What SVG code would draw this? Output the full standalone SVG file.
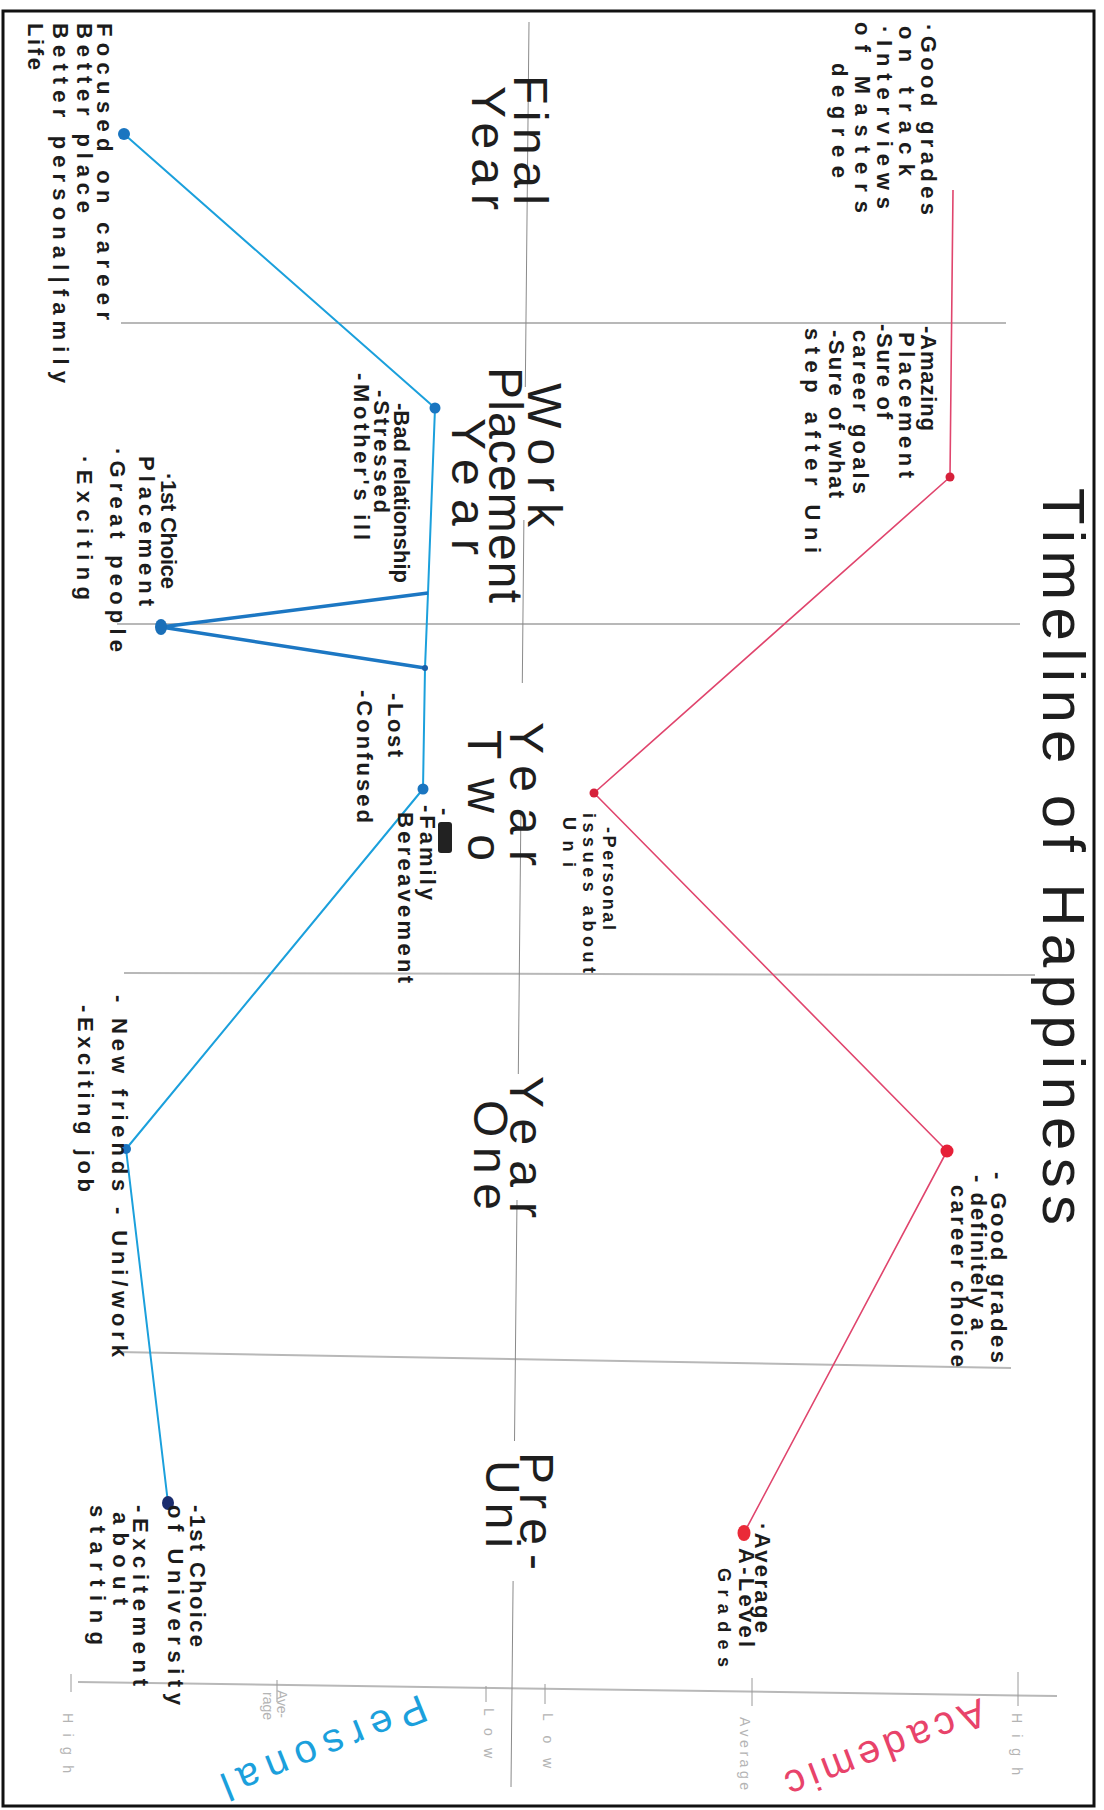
<svg xmlns="http://www.w3.org/2000/svg" width="1104" height="1810" viewBox="0 0 1104 1810">
  <style>
    .title { font-family: "Liberation Sans", Arial, sans-serif; font-size: 60px; fill: #1e1e1e; }
    .big { font-family: "Liberation Sans", Arial, sans-serif; font-size: 48px; fill: #1e1e1e; }
    .note { font-family: "Liberation Sans", Arial, sans-serif; font-weight: bold; font-size: 22px; fill: #1c1c1c; }
    .small { font-family: "Liberation Sans", Arial, sans-serif; font-weight: bold; font-size: 18px; fill: #1c1c1c; }
    .axis { font-family: "Liberation Sans", Arial, sans-serif; font-size: 14px; fill: #b4b4b4; }
    .legend { font-family: "Liberation Sans", Arial, sans-serif; font-size: 40px; }
    .grid { stroke: #b8b8b8; stroke-width: 2; fill: none; }
    .spine { stroke: #8a8a8a; stroke-width: 1; fill: none; }
    .tick { stroke: #9a9a9a; stroke-width: 1; }
    .acad { stroke: #e0456d; stroke-width: 1.6; fill: none; stroke-linejoin: round; }
    .pers { stroke: #1ba0dc; stroke-width: 2; fill: none; stroke-linejoin: round; }
    .pers-v { stroke: #1c77c3; stroke-width: 3.5; fill: none; stroke-linejoin: round; }
    .dot-a { fill: #d6203a; }
    .dot-p { fill: #1a75c0; }
  </style>

  <rect x="0" y="0" width="1104" height="1810" fill="#ffffff"/>
  <rect x="3" y="11" width="1091" height="1795" fill="none" stroke="#111" stroke-width="3"/>

  <!-- period dividers and value axis -->
  <g id="grid">
    <line class="grid" x1="121" y1="323" x2="1006" y2="323"/>
    <line class="grid" x1="117" y1="624" x2="1020" y2="624"/>
    <line class="grid" x1="124" y1="973" x2="1035" y2="975"/>
    <line class="grid" x1="117" y1="1352" x2="1011" y2="1368"/>
    <line class="grid" x1="78" y1="1682" x2="1057" y2="1696"/>
    <path class="spine" d="M529,22 L525.3,387 M523.9,520 L522.3,683 M520.9,813 L518.3,1074 M517,1200 L514.5,1441 M513.1,1581 L511,1787"/>
    <line class="tick" x1="71" y1="1674" x2="71" y2="1692"/>
    <line class="tick" x1="277" y1="1680" x2="277" y2="1702"/>
    <line class="tick" x1="486" y1="1686" x2="486" y2="1702"/>
    <line class="tick" x1="545" y1="1684" x2="545" y2="1704"/>
    <line class="tick" x1="752" y1="1678" x2="752" y2="1706"/>
    <line class="tick" x1="1018" y1="1672" x2="1018" y2="1706"/>
  </g>

  <!-- axis scale labels -->
  <g id="axis-labels" transform="rotate(90)">
    <text class="axis" x="1713" y="-63" textLength="60">High</text>
    <text class="axis" x="1690" y="-277" textLength="28">Ave-</text>
    <text class="axis" x="1692" y="-263" textLength="28">rage</text>
    <text class="axis" x="1708" y="-484" textLength="50">Low</text>
    <text class="axis" x="1713" y="-543" textLength="55">Low</text>
    <text class="axis" x="1717" y="-740" textLength="73">Average</text>
    <text class="axis" x="1713" y="-1012" textLength="62">High</text>
  </g>

  <g id="legend-personal">
    <text class="legend" transform="translate(420,1694) rotate(158)" fill="#1ba0dc" textLength="218">Personal</text>
  </g>
  <g id="legend-academic">
    <text class="legend" transform="translate(980,1698) rotate(159)" fill="#e8436a" textLength="212">Academic</text>
  </g>

  <g id="title" transform="rotate(90)">
    <text class="title" x="488" y="-1043" textLength="737">Timeline of Happiness</text>
  </g>

  <!-- period headings -->
  <g id="period-final-year" transform="rotate(90)">
    <text class="big" x="75" y="-514" textLength="130">Final</text>
    <text class="big" x="86" y="-472" textLength="124">Year</text>
  </g>
  <g id="period-placement" transform="rotate(90)">
    <text class="big" x="383" y="-528" textLength="144">Work</text>
    <text class="big" x="367" y="-489" textLength="236">Placement</text>
    <text class="big" x="418" y="-452" textLength="137">Year</text>
  </g>
  <g id="period-year-two" transform="rotate(90)">
    <text class="big" x="722" y="-510" textLength="144">Year</text>
    <text class="big" x="730" y="-468" textLength="131">Two</text>
  </g>
  <g id="period-year-one" transform="rotate(90)">
    <text class="big" x="1076" y="-510" textLength="142">Year</text>
    <text class="big" x="1100" y="-474" textLength="110">One</text>
  </g>
  <g id="period-pre-uni" transform="rotate(90)">
    <text class="big" x="1452" y="-520" textLength="118">Pre-</text>
    <text class="big" x="1460" y="-486" textLength="88">Uni</text>
  </g>

  <!-- happiness curves -->
  <g id="connectors">
    <path class="acad" d="M953,190 L950,477 L594,793 L947,1151 L744,1533"/>
    <path class="pers" d="M124,134 L435,408 L428,593 L425,668 L423,789 L126,1149 L168,1503"/>
    <path class="pers-v" d="M428,593 L161,627 L425,668"/>
  </g>

  <!-- academic points -->
  <g id="acad-final" class="dot-a"><circle cx="950" cy="477" r="4.5"/></g>
  <g id="acad-year-two" class="dot-a"><circle cx="594" cy="793" r="4.5"/></g>
  <g id="acad-year-one"><circle cx="947" cy="1151" r="6.5" fill="#e62038"/></g>
  <g id="acad-pre-uni"><ellipse cx="744" cy="1533" rx="6.5" ry="8" fill="#ea2a38"/></g>

  <!-- personal points -->
  <g id="pers-final" class="dot-p"><circle cx="124" cy="134" r="6"/></g>
  <g id="pers-placement" class="dot-p"><circle cx="435" cy="408" r="5.5"/></g>
  <g id="pers-placement-peak"><ellipse cx="161" cy="627" rx="6" ry="8" fill="#1a6fb8"/></g>
  <g id="pers-placement-low"><circle cx="425" cy="668" r="3" fill="#1a5fa8"/></g>
  <g id="pers-year-two" class="dot-p"><circle cx="423" cy="789" r="5.5"/></g>
  <g id="pers-year-one" class="dot-p"><circle cx="126" cy="1149" r="5"/></g>
  <g id="pers-pre-uni"><ellipse cx="168" cy="1503" rx="6" ry="7" fill="#1a2d6e"/></g>

  <!-- annotations -->
  <g id="note-acad-final" transform="rotate(90)">
    <text class="note" x="24" y="-921" textLength="191">·Good grades</text>
    <text class="note" x="26" y="-899" textLength="150">on track</text>
    <text class="note" x="26" y="-877" textLength="183">·Interviews</text>
    <text class="note" x="22" y="-855" textLength="191">of Masters</text>
    <text class="note" x="63" y="-832" textLength="115">degree</text>
  </g>
  <g id="note-acad-placement" transform="rotate(90)">
    <text class="note" x="326" y="-921" textLength="105">-Amazing</text>
    <text class="note" x="332" y="-899" textLength="146">Placement</text>
    <text class="note" x="324" y="-877" textLength="95">-Sure of</text>
    <text class="note" x="330" y="-853" textLength="164">career goals</text>
    <text class="note" x="330" y="-829" textLength="168">-Sure of what</text>
    <text class="note" x="328" y="-805" textLength="225">step after Uni</text>
  </g>
  <g id="note-acad-year-two" transform="rotate(90)">
    <text class="small" x="827" y="-603" textLength="103">-Personal</text>
    <text class="small" x="813" y="-583" textLength="160">issues about</text>
    <text class="small" x="817" y="-563" textLength="50">Uni</text>
  </g>
  <g id="note-acad-year-one" transform="rotate(90)">
    <text class="note" x="1172" y="-991" textLength="191">- Good grades</text>
    <text class="note" x="1175" y="-971" textLength="155">- definitely a</text>
    <text class="note" x="1185" y="-951" textLength="182">career choice</text>
  </g>
  <g id="note-acad-pre-uni" transform="rotate(90)">
    <text class="note" x="1523" y="-755" textLength="110">·Average</text>
    <text class="note" x="1548" y="-739" textLength="99">A-Level</text>
    <text class="small" x="1568" y="-718" textLength="99">Grades</text>
  </g>

  <g id="note-pers-final" transform="rotate(90)">
    <text class="note" x="23" y="-97" textLength="297">Focused on career</text>
    <text class="note" x="23" y="-77" textLength="190">Better place</text>
    <text class="note" x="23" y="-53" textLength="360">Better personal|family</text>
    <text class="note" x="23" y="-28" textLength="47">Life</text>
  </g>
  <g id="note-pers-placement" transform="rotate(90)">
    <text class="note" x="403" y="-394" textLength="180">-Bad relationship</text>
    <text class="note" x="390" y="-374" textLength="123">-Stressed</text>
    <text class="note" x="373" y="-354" textLength="167">-Mother's ill</text>
  </g>
  <g id="note-pers-placement-peak" transform="rotate(90)">
    <text class="note" x="473" y="-161" textLength="116">·1st Choice</text>
    <text class="note" x="456" y="-139" textLength="150">Placement</text>
    <text class="note" x="448" y="-110" textLength="204">·Great people</text>
    <text class="note" x="456" y="-77" textLength="144">·Exciting</text>
  </g>
  <g id="note-pers-placement-low" transform="rotate(90)">
    <text class="note" x="693" y="-388" textLength="64">-Lost</text>
    <text class="note" x="690" y="-357" textLength="133">-Confused</text>
  </g>
  <g id="note-pers-year-two">
    <rect x="438" y="822" width="14" height="31" rx="3" fill="#222"/>
    <g transform="rotate(90)">
      <text class="note" x="808" y="-438">-</text>
      <text class="note" x="805" y="-420" textLength="95">-Family</text>
      <text class="note" x="812" y="-398" textLength="171">Bereavement</text>
    </g>
  </g>
  <g id="note-pers-year-one" transform="rotate(90)">
    <text class="note" x="995" y="-112" textLength="362">- New friends - Uni/work</text>
    <text class="note" x="1005" y="-78" textLength="187">-Exciting job</text>
  </g>
  <g id="note-pers-pre-uni" transform="rotate(90)">
    <text class="note" x="1505" y="-190" textLength="142">-1st Choice</text>
    <text class="note" x="1505" y="-168" textLength="200">of University</text>
    <text class="note" x="1505" y="-133" textLength="181">-Excitement</text>
    <text class="note" x="1512" y="-113" textLength="93">about</text>
    <text class="note" x="1505" y="-90" textLength="140">starting</text>
  </g>
</svg>
